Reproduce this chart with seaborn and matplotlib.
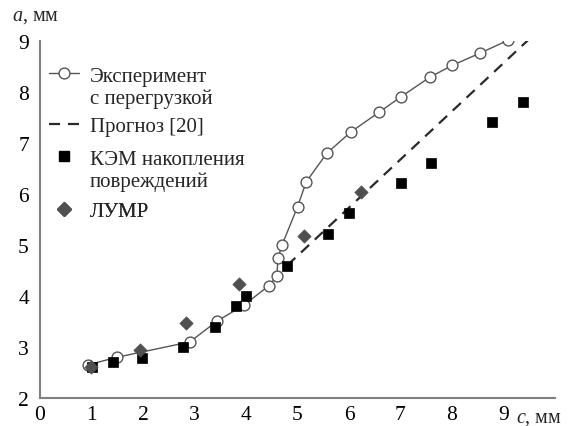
import matplotlib
matplotlib.use("Agg")
import matplotlib.pyplot as plt
from matplotlib.lines import Line2D
import seaborn as sns
import pandas as pd

# ---- data ----
exp_c = [0.93, 1.50, 2.91, 3.44, 3.96, 4.44, 4.60, 4.62, 4.70, 5.00, 5.17, 5.57, 6.04, 6.58, 7.00, 7.57, 8.00, 8.54, 9.08]
exp_a = [2.65, 2.80, 3.10, 3.51, 3.82, 4.20, 4.39, 4.74, 5.00, 5.75, 6.24, 6.80, 7.22, 7.60, 7.90, 8.29, 8.52, 8.76, 9.01]

prog_c = [4.80, 9.48]
prog_a = [4.60, 9.02]

kem_c = [1.00, 1.41, 1.99, 2.78, 3.40, 3.80, 4.00, 4.80, 5.59, 6.00, 7.00, 7.59, 8.78, 9.38]
kem_a = [2.60, 2.70, 2.78, 3.00, 3.39, 3.80, 4.00, 4.59, 5.21, 5.62, 6.21, 6.60, 7.41, 7.80]

lumr_c = [0.99, 1.94, 2.83, 3.87, 5.13, 6.23]
lumr_a = [2.60, 2.94, 3.47, 4.23, 5.18, 6.03]

x_ticks = [0, 1, 2, 3, 4, 5, 6, 7, 8, 9, 10]
x_labels = ["0", "1", "2", "3", "4", "5", "6", "7", "8", "9", ""]
y_ticks = [2, 3, 4, 5, 6, 7, 8, 9]

legend_labels = ["Эксперимент", "с перегрузкой", "Прогноз [20]",
                 "КЭМ накопления", "повреждений", "ЛУМР"]

# ---- style ----
sns.set_style("white")
plt.rcParams["font.family"] = ["Liberation Serif", "DejaVu Serif"]
plt.rcParams["mathtext.fontset"] = "custom"
plt.rcParams["mathtext.it"] = "Liberation Serif:italic"
plt.rcParams["mathtext.rm"] = "Liberation Serif"

W, H = 572, 427
fig = plt.figure(figsize=(W / 100, H / 100), dpi=100)
ax = fig.add_axes([40 / W, 28 / H, 515 / W, 357 / H])

line_gray = "#555555"
dia_gray = "#505050"
dash_col = "#2a2a2a"

df_exp = pd.DataFrame({"c": exp_c, "a": exp_a})
df_prog = pd.DataFrame({"c": prog_c, "a": prog_a})
df_kem = pd.DataFrame({"c": kem_c, "a": kem_a})
df_lumr = pd.DataFrame({"c": lumr_c, "a": lumr_a})

sns.lineplot(data=df_exp, x="c", y="a", ax=ax, sort=False, estimator=None,
             color=line_gray, linewidth=1.0, marker="o", markersize=7.8,
             markerfacecolor="white", markeredgecolor=line_gray,
             markeredgewidth=1.0, zorder=3, legend=False)
sns.lineplot(data=df_prog, x="c", y="a", ax=ax, sort=False, estimator=None,
             color=dash_col, linewidth=1.6, linestyle=(0, (5, 3.5)),
             zorder=2, legend=False)
sns.scatterplot(data=df_kem, x="c", y="a", ax=ax, marker="s", s=60,
                color="black", edgecolor="black", linewidth=0.5, zorder=4,
                legend=False)
sns.scatterplot(data=df_lumr, x="c", y="a", ax=ax, marker="D", s=46,
                color=dia_gray, edgecolor=dia_gray, linewidth=0.5, zorder=5,
                legend=False)

ax.set_xlim(0, 10)
ax.set_ylim(2, 9)
ax.set_xticks(x_ticks)
ax.set_xticklabels(x_labels)
ax.set_yticks(y_ticks)
ax.set_xlabel("")
ax.set_ylabel("")

for s in ["top", "right"]:
    ax.spines[s].set_visible(False)
for s in ["left", "bottom"]:
    ax.spines[s].set_color("#808080")
    ax.spines[s].set_linewidth(1.5)

ax.tick_params(axis="both", direction="in", length=4.5, width=1.2,
               color="#808080", labelsize=15.5, labelcolor="black")
ax.tick_params(axis="y", pad=8)
ax.tick_params(axis="x", pad=5)

fig.text(12 / W, 1 - 21 / H, "$a$, мм", fontsize=14.5, va="baseline", ha="left")
fig.text(516 / W, 1 - 423 / H, "$c$, мм", fontsize=14.5, va="baseline", ha="left")

# legend (four groups so the spacing matches the original)
blank = Line2D([], [], linestyle="none", marker=None)
h_exp = Line2D([], [], color=line_gray, lw=1.0, marker="o", markersize=7.8,
               markerfacecolor="white", markeredgecolor=line_gray)
h_prog = Line2D([], [], color=dash_col, lw=1.6, linestyle=(0, (5, 3.5)))
h_kem = Line2D([], [], linestyle="none", marker="s", markersize=7.7,
               color="black")
h_lumr = Line2D([], [], linestyle="none", marker="D", markersize=6.8,
                color=dia_gray)

groups = [
    ([h_exp, blank], legend_labels[0:2], 88),
    ([h_prog], legend_labels[2:3], 127),
    ([h_kem, blank], legend_labels[3:5], 171),
    ([h_lumr], legend_labels[5:6], 212),
]
for hs, ls, py in groups:
    leg = ax.legend(handles=hs, labels=ls, loc="center left",
                    bbox_to_anchor=(0.018, (399 - py) / 357), frameon=False,
                    fontsize=15, borderpad=0, borderaxespad=0,
                    handlelength=1.45, handletextpad=0.5, labelspacing=0.12,
                    numpoints=1)
    ax.add_artist(leg)

fig.savefig("out.png", dpi=100)
